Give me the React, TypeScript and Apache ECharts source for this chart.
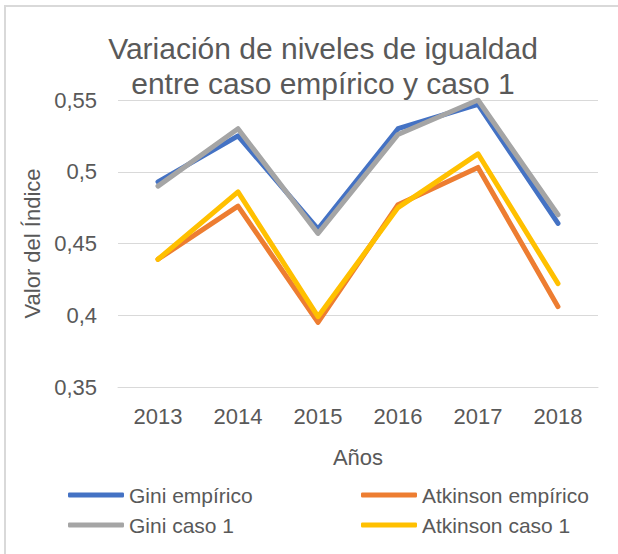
import React, { useEffect, useRef } from "react";
import * as echarts from "echarts";

const years = ["2013", "2014", "2015", "2016", "2017", "2018"];
const giniEmpirico = [0.493, 0.525, 0.46, 0.53, 0.547, 0.464];
const atkinsonEmpirico = [0.439, 0.476, 0.395, 0.477, 0.503, 0.406];
const giniCaso1 = [0.49, 0.53, 0.457, 0.526, 0.55, 0.47];
const atkinsonCaso1 = [0.439, 0.486, 0.399, 0.475, 0.5125, 0.422];

const FONT = "Liberation Sans, Arial, sans-serif";
const TXT = "#595959";

export default function App() {
  const ref = useRef<HTMLDivElement>(null);
  useEffect(() => {
    const chart = echarts.init(ref.current!, null, { renderer: "svg" });
    const mk = (name: string, data: number[], color: string) => ({
      name,
      type: "line",
      data,
      symbol: "none",
      color,
      lineStyle: { width: 5, color, cap: "round", join: "round" },
    });
    const legendBase = {
      orient: "vertical",
      top: 478,
      itemWidth: 56,
      itemHeight: 5,
      itemGap: 6,
      icon: "roundRect",
      textStyle: { color: TXT, fontSize: 21, fontFamily: FONT, lineHeight: 24 },
    };
    chart.setOption({
      animation: false,
      backgroundColor: "#ffffff",
      textStyle: { fontFamily: FONT },
      title: {
        text: "Variación de niveles de igualdad\nentre caso empírico y caso 1",
        left: 318,
        top: 26,
        textAlign: "center",
        textStyle: {
          fontFamily: FONT,
          fontSize: 30,
          fontWeight: "normal",
          color: TXT,
          lineHeight: 35,
        },
      },
      graphic: [
        {
          type: "rect",
          shape: { x: 5, y: 6, width: 640, height: 580 },
          style: { fill: "none", stroke: "#d9d9d9", lineWidth: 2 },
          silent: true,
          z: -10,
        },
      ],
      grid: { left: 118, right: 20, top: 100, bottom: 167, containLabel: false },
      xAxis: {
        type: "category",
        data: years,
        boundaryGap: true,
        axisLine: { show: true, lineStyle: { color: "#d9d9d9", width: 1 } },
        axisTick: { show: false },
        axisLabel: { color: TXT, fontSize: 22, fontFamily: FONT, margin: 18 },
        name: "Años",
        nameLocation: "middle",
        nameGap: 59,
        nameTextStyle: { color: TXT, fontSize: 22, fontFamily: FONT },
      },
      yAxis: {
        type: "value",
        min: 0.35,
        max: 0.55,
        interval: 0.05,
        axisLine: { show: false },
        axisTick: { show: false },
        splitLine: { lineStyle: { color: "#d9d9d9", width: 1 } },
        axisLabel: {
          color: TXT,
          fontSize: 22,
          fontFamily: FONT,
          margin: 21,
          formatter: (v: number) =>
            String(parseFloat(v.toFixed(2))).replace(".", ","),
        },
        name: "Valor del Índice",
        nameLocation: "middle",
        nameGap: 75,
        nameTextStyle: { color: TXT, fontSize: 22, fontFamily: FONT },
      },
      legend: [
        { ...legendBase, data: ["Gini empírico", "Gini caso 1"], left: 63 },
        { ...legendBase, data: ["Atkinson empírico", "Atkinson caso 1"], left: 356 },
      ],
      series: [
        mk("Gini empírico", giniEmpirico, "#4472C4"),
        mk("Atkinson empírico", atkinsonEmpirico, "#ED7D31"),
        mk("Gini caso 1", giniCaso1, "#A5A5A5"),
        mk("Atkinson caso 1", atkinsonCaso1, "#FFC000"),
      ],
    });
    return () => chart.dispose();
  }, []);
  return (
    <div
      ref={ref}
      style={{ position: "fixed", left: 0, top: 0, width: 618, height: 554 }}
    />
  );
}
